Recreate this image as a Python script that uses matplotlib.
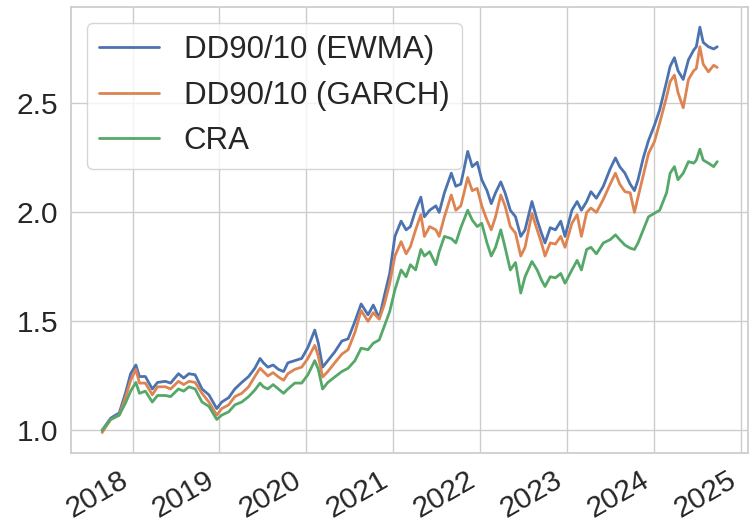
"""
Cumulative performance of the DD90/10 strategies vs CRA.
Values read off the reference chart (roughly fortnightly/monthly samples).
"""

import matplotlib
matplotlib.use("Agg")
import matplotlib.dates as mdates
import matplotlib.pyplot as plt
import pandas as pd
import seaborn as sns

dates = [
    "2017-08-26", "2017-10-01", "2017-11-06", "2017-12-02", "2017-12-24",
    "2018-01-15", "2018-01-30", "2018-02-24", "2018-03-25", "2018-04-16",
    "2018-05-19", "2018-06-10", "2018-07-13", "2018-08-04", "2018-08-26",
    "2018-09-21", "2018-10-20", "2018-11-18", "2018-12-21", "2019-01-11",
    "2019-02-09", "2019-03-07", "2019-04-05", "2019-05-04", "2019-05-30",
    "2019-06-21", "2019-07-05", "2019-07-24", "2019-08-15", "2019-09-06",
    "2019-09-28", "2019-10-16", "2019-11-14", "2019-12-13", "2020-01-08",
    "2020-02-06", "2020-02-21", "2020-03-10", "2020-04-01", "2020-04-30",
    "2020-05-30", "2020-06-25", "2020-07-24", "2020-08-19", "2020-09-17",
    "2020-10-09", "2020-11-03", "2020-11-25", "2020-12-17", "2021-01-08",
    "2021-02-03", "2021-02-24", "2021-03-14", "2021-04-05", "2021-04-27",
    "2021-05-12", "2021-06-03", "2021-06-29", "2021-07-13", "2021-08-04",
    "2021-09-02", "2021-09-21", "2021-10-12", "2021-11-10", "2021-11-29",
    "2021-12-20", "2022-01-08", "2022-01-30", "2022-02-17", "2022-03-07",
    "2022-03-29", "2022-04-16", "2022-05-08", "2022-05-30", "2022-06-21",
    "2022-07-09", "2022-08-07", "2022-08-29", "2022-09-16", "2022-10-01",
    "2022-10-23", "2022-11-14", "2022-12-06", "2022-12-24", "2023-01-22",
    "2023-02-13", "2023-03-03", "2023-03-25", "2023-04-12", "2023-05-05",
    "2023-06-03", "2023-07-02", "2023-07-24", "2023-08-11", "2023-09-02",
    "2023-09-24", "2023-10-12", "2023-10-27", "2023-11-18", "2023-12-10",
    "2024-01-04", "2024-01-26", "2024-02-24", "2024-03-10", "2024-03-28",
    "2024-04-12", "2024-05-04", "2024-05-26", "2024-06-17", "2024-06-28",
    "2024-07-13", "2024-07-27", "2024-08-18", "2024-09-09", "2024-09-24",
]

dd_ewma = [
    1.00, 1.056, 1.08, 1.17, 1.26,
    1.30, 1.247, 1.247, 1.19, 1.22,
    1.225, 1.217, 1.26, 1.24, 1.26,
    1.255, 1.19, 1.163, 1.10, 1.13,
    1.15, 1.19, 1.22, 1.247, 1.285,
    1.33, 1.31, 1.29, 1.30, 1.28,
    1.27, 1.31, 1.32, 1.33, 1.38,
    1.46, 1.40, 1.29, 1.32, 1.36,
    1.41, 1.42, 1.50, 1.58, 1.53,
    1.575, 1.515, 1.62, 1.72, 1.89,
    1.96, 1.92, 1.935, 2.01, 2.07,
    1.98, 2.01, 2.03, 2.00, 2.09,
    2.18, 2.12, 2.13, 2.28, 2.21,
    2.23, 2.15, 2.10, 2.04, 2.09,
    2.14, 2.09, 2.01, 1.98, 1.89,
    1.92, 2.05, 1.965, 1.905, 1.86,
    1.93, 1.92, 1.96, 1.89, 2.01,
    2.05, 2.01, 2.05, 2.095, 2.065,
    2.12, 2.20, 2.25, 2.21, 2.18,
    2.13, 2.10, 2.15, 2.25, 2.33,
    2.40, 2.47, 2.60, 2.67, 2.71,
    2.65, 2.61, 2.70, 2.745, 2.76,
    2.85, 2.78, 2.76, 2.75, 2.76,
]

dd_garch = [
    0.99, 1.05, 1.07, 1.15, 1.23,
    1.28, 1.217, 1.217, 1.163, 1.20,
    1.20, 1.19, 1.225, 1.21, 1.225,
    1.22, 1.17, 1.13, 1.07, 1.10,
    1.117, 1.155, 1.17, 1.20, 1.247,
    1.285, 1.27, 1.25, 1.265, 1.245,
    1.23, 1.26, 1.28, 1.29, 1.33,
    1.39, 1.34, 1.245, 1.27, 1.31,
    1.35, 1.37, 1.45, 1.55, 1.50,
    1.54, 1.51, 1.58, 1.675, 1.80,
    1.866, 1.81, 1.843, 1.92, 1.99,
    1.89, 1.935, 1.92, 1.89, 1.98,
    2.08, 2.01, 2.03, 2.16, 2.10,
    2.11, 2.03, 1.965, 1.92, 1.98,
    2.08, 2.03, 1.935, 1.905, 1.80,
    1.84, 1.995, 1.92, 1.86, 1.80,
    1.86, 1.855, 1.89, 1.84, 1.95,
    1.99, 1.89, 2.00, 2.02, 2.00,
    2.06, 2.13, 2.18, 2.13, 2.095,
    2.09, 2.00, 2.07, 2.17, 2.27,
    2.325, 2.41, 2.53, 2.60, 2.63,
    2.55, 2.48, 2.61, 2.65, 2.66,
    2.76, 2.68, 2.645, 2.675, 2.665,
]

cra = [
    1.00, 1.05, 1.07, 1.125, 1.18,
    1.22, 1.17, 1.18, 1.13, 1.16,
    1.16, 1.155, 1.19, 1.18, 1.20,
    1.19, 1.13, 1.11, 1.05, 1.07,
    1.085, 1.117, 1.13, 1.155, 1.185,
    1.217, 1.20, 1.19, 1.21, 1.19,
    1.17, 1.19, 1.217, 1.217, 1.255,
    1.32, 1.28, 1.19, 1.22, 1.245,
    1.27, 1.285, 1.32, 1.377, 1.37,
    1.40, 1.415, 1.48, 1.545, 1.645,
    1.736, 1.705, 1.76, 1.736, 1.83,
    1.80, 1.82, 1.76, 1.82, 1.89,
    1.88, 1.86, 1.93, 2.01, 1.965,
    1.935, 1.95, 1.86, 1.80, 1.84,
    1.92, 1.84, 1.736, 1.77, 1.63,
    1.705, 1.775, 1.736, 1.69, 1.66,
    1.705, 1.70, 1.72, 1.675, 1.736,
    1.78, 1.736, 1.83, 1.84, 1.81,
    1.86, 1.875, 1.897, 1.875, 1.85,
    1.836, 1.83, 1.86, 1.92, 1.98,
    1.996, 2.01, 2.09, 2.18, 2.21,
    2.15, 2.18, 2.233, 2.226, 2.24,
    2.29, 2.24, 2.226, 2.21, 2.233,
]

labels = ["DD90/10 (EWMA)", "DD90/10 (GARCH)", "CRA"]

sns.set_theme(style="whitegrid")
plt.rcParams["font.family"] = ["Liberation Sans", "DejaVu Sans"]

df = pd.DataFrame(
    {labels[0]: dd_ewma, labels[1]: dd_garch, labels[2]: cra},
    index=pd.to_datetime(dates),
)

fig, ax = plt.subplots(figsize=(7.51, 5.29), dpi=100)
for col in df.columns:
    ax.plot(df.index, df[col], label=col, linewidth=2.0)

ax.xaxis.set_major_locator(mdates.YearLocator())
ax.xaxis.set_major_formatter(mdates.DateFormatter("%Y"))
ax.tick_params(axis="both", labelsize=21.5)
plt.setp(ax.get_xticklabels(), rotation=30, ha="right")

leg = ax.legend(loc="upper left", fontsize=22.5, handlelength=1.9)
for line in leg.get_lines():
    line.set_linewidth(2.0)

fig.subplots_adjust(left=0.095, right=0.996, top=0.987, bottom=0.144)
fig.savefig("out.png", dpi=100)
plt.close(fig)
